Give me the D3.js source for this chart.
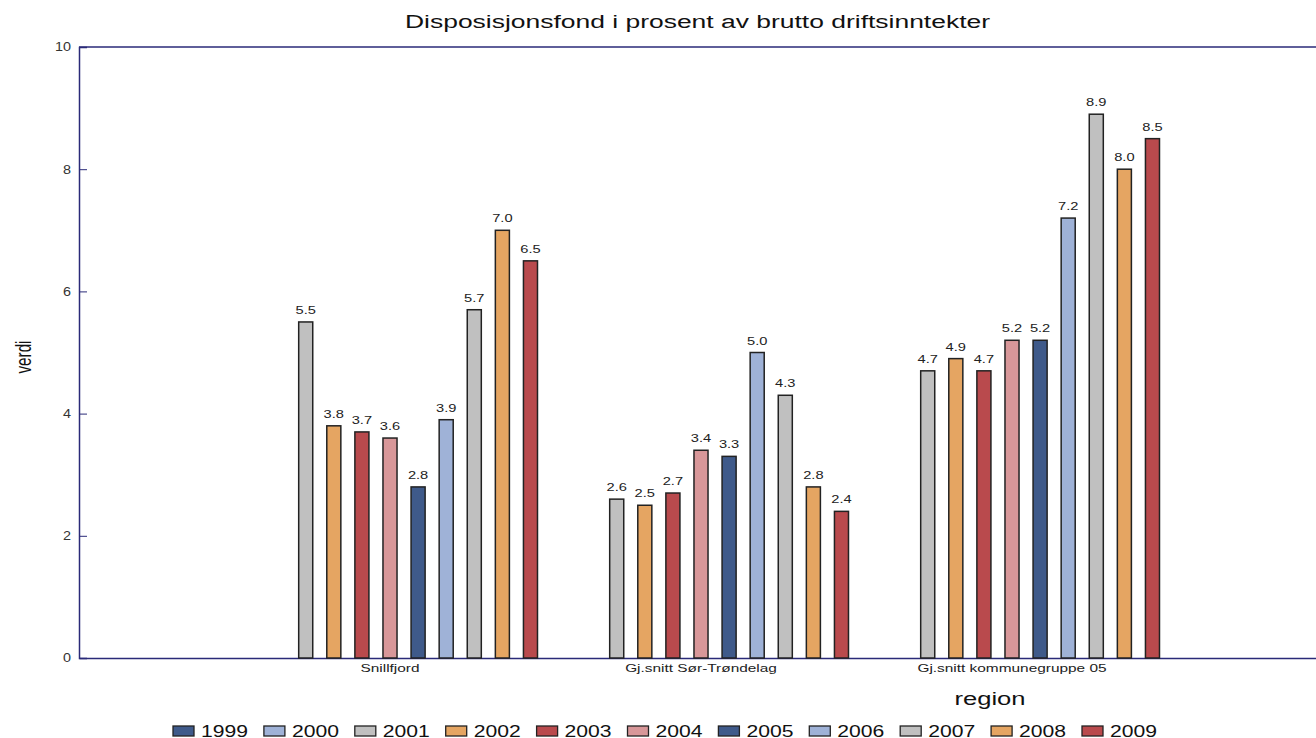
<!DOCTYPE html>
<html><head><meta charset="utf-8">
<script src="https://cdn.jsdelivr.net/npm/d3@7"></script>
<style>
html,body{margin:0;padding:0;background:#fff;}
svg{display:block;font-family:"Liberation Sans",Arial,sans-serif;}
</style></head>
<body>
<svg id="chart" width="1316" height="738"></svg>
<script>
const regions = ["Snillfjord", "Gj.snitt Sør-Trøndelag", "Gj.snitt kommunegruppe 05"];
const years = ["1999","2000","2001","2002","2003","2004","2005","2006","2007","2008","2009"];
const snillfjord = [null, null, 5.5, 3.8, 3.7, 3.6, 2.8, 3.9, 5.7, 7.0, 6.5];
const sorTrondelag = [null, null, 2.6, 2.5, 2.7, 3.4, 3.3, 5.0, 4.3, 2.8, 2.4];
const kommunegruppe05 = [null, null, 4.7, 4.9, 4.7, 5.2, 5.2, 7.2, 8.9, 8.0, 8.5];
const yTicks = [0, 2, 4, 6, 8, 10];
const colors = ["#3f5a8a","#9fb2d7","#c0c0c0","#e5a562","#b94a4d","#d89799","#3f5a8a","#9fb2d7","#c0c0c0","#e5a562","#b94a4d"];

(function () {
const seriesByRegion = [snillfjord, sorTrondelag, kommunegruppe05];
const data = regions.map((r, i) => ({region: r, values: years.map((y, j) => ({year: y, value: seriesByRegion[i][j]}))}));

const svg = d3.select("#chart");
const mLeft = 79, mTop = 47, mBottom = 658, mRight = 1323;
const axisColor = "#2a2a78";
const FONT = "Liberation Sans, Arial, sans-serif";

// horizontally stretch text (the reference is rendered with wide glyphs)
function stretch(sel, f) {
  sel.each(function () {
    const w = this.getComputedTextLength();
    d3.select(this).attr("textLength", w * f).attr("lengthAdjust", "spacingAndGlyphs");
  });
}

const x0 = d3.scaleBand().domain(regions).range([mLeft, mRight]).paddingInner(0).paddingOuter(0.5);
const x1 = d3.scaleBand().domain(years).range([0, x0.bandwidth()]).paddingInner(0.5).paddingOuter(0.285);
const y = d3.scaleLinear().domain([0, 10]).range([mBottom, mTop]);
const color = d3.scaleOrdinal().domain(years).range(colors);

// title
svg.append("text").attr("x", 697.5).attr("y", 28).attr("text-anchor", "middle")
  .attr("font-size", 18).attr("fill", "#111")
  .text("Disposisjonsfond i prosent av brutto driftsinntekter")
  .attr("textLength", 585).attr("lengthAdjust", "spacingAndGlyphs");

// frame top
svg.append("line").attr("x1", mLeft).attr("x2", mRight).attr("y1", mTop).attr("y2", mTop).attr("stroke", axisColor).attr("stroke-width", 1.3);

// y axis
const yAxis = d3.axisLeft(y).tickValues(yTicks).tickSize(-8).tickPadding(8).tickFormat(d3.format("d"));
const gy = svg.append("g").attr("transform", `translate(${mLeft},0)`).call(yAxis);
gy.select(".domain").attr("stroke", axisColor).attr("stroke-width", 1.5);
gy.selectAll(".tick line").attr("stroke", axisColor).attr("stroke-width", 1);
gy.selectAll(".tick text").attr("font-size", 12).attr("fill", "#333").attr("font-family", FONT).call(stretch, 1.2);

// x axis
const xAxis = d3.axisBottom(x0).tickSize(0).tickPadding(6);
const gx = svg.append("g").attr("transform", `translate(0,${mBottom})`).call(xAxis);
gx.select(".domain").attr("stroke", axisColor).attr("stroke-width", 1.5);
gx.selectAll(".tick text").attr("font-size", 11).attr("fill", "#222").attr("font-family", FONT).call(stretch, 1.4);

// bars
const groups = svg.append("g").selectAll("g").data(data).join("g")
  .attr("transform", d => `translate(${x0(d.region)},0)`);
const valid = d => d.values.filter(v => v.value !== null);
groups.selectAll("rect").data(valid).join("rect")
  .attr("x", d => x1(d.year)).attr("width", x1.bandwidth())
  .attr("y", d => y(d.value)).attr("height", d => y(0) - y(d.value))
  .attr("fill", d => color(d.year)).attr("stroke", "#222").attr("stroke-width", 1.5);
groups.selectAll("text").data(valid).join("text")
  .attr("x", d => x1(d.year) + x1.bandwidth() / 2).attr("y", d => y(d.value) - 8)
  .attr("text-anchor", "middle").attr("font-size", 11).attr("fill", "#222")
  .text(d => d3.format(".1f")(d.value)).call(stretch, 1.33);

// axis titles
svg.append("text").attr("transform", "translate(31,357) rotate(-90) scale(1,1.35)").attr("text-anchor", "middle")
  .attr("font-size", 16).attr("fill", "#111").text("verdi")
  .attr("textLength", 33).attr("lengthAdjust", "spacingAndGlyphs");
svg.append("text").attr("x", 990).attr("y", 705).attr("text-anchor", "middle")
  .attr("font-size", 18).attr("fill", "#111").text("region").call(stretch, 1.42);

// legend
const legend = svg.append("g").selectAll("g").data(years).join("g")
  .attr("transform", (d, i) => `translate(${173 + i * 90.9},726)`);
legend.append("rect").attr("width", 21).attr("height", 10)
  .attr("fill", d => color(d)).attr("stroke", "#222").attr("stroke-width", 1.3);
legend.append("text").attr("x", 28).attr("y", 10.5).attr("font-size", 16).attr("fill", "#111")
  .text(d => d).call(stretch, 1.32);
})();
</script>
</body></html>
